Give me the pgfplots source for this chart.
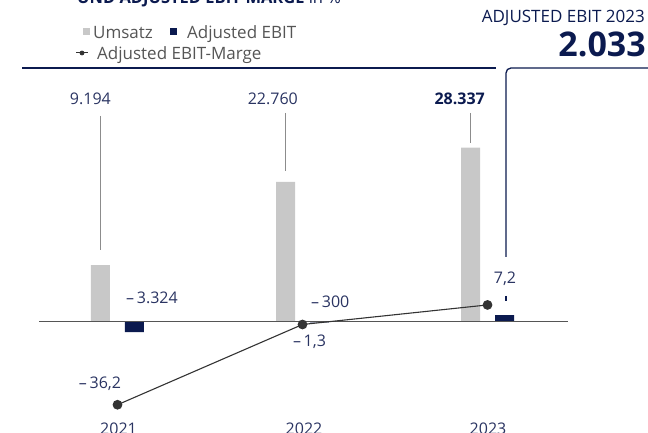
\documentclass[border=0pt]{standalone}
\usepackage{fontspec}
\setmainfont{Open Sans}
\usepackage{pgfplots}
\usepackage{pgfplotstable}
\pgfplotsset{compat=1.18}
\definecolor{barg}{HTML}{C8C8C8}
\definecolor{navy}{HTML}{0B1A4F}
\definecolor{lbl}{HTML}{2A3462}
\definecolor{legtxt}{HTML}{555555}
\definecolor{linec}{HTML}{333333}
\definecolor{axc}{HTML}{555555}
\definecolor{leader}{HTML}{8C8C8C}

\pgfplotstableread{
x umsatz ebit marge
0 9194 -3324 -36.2
1 22760 -300 -1.3
2 28337 2033 7.2
}\data

\pgfplotsset{base/.style={at={(39pt,0pt)}, anchor=south west, width=529pt, height=365pt,
  scale only axis, xmin=-0.4243, xmax=2.4351, hide axis, clip=false}}

\begin{document}
\begin{tikzpicture}
\useasboundingbox (0,0) rectangle (648pt,433pt);
% Umsatz
\begin{axis}[base, ymin=-18174.5, ymax=41320.5]
\addplot[ybar, bar width=19pt, bar shift=-17pt, fill=barg, draw=none] table[x=x,y=umsatz]{\data};
\end{axis}
% Adjusted EBIT
\begin{axis}[base, ymin=-35122.5, ymax=79852.5]
\addplot[ybar, bar width=19pt, bar shift=17pt, fill=navy, draw=none] table[x=x,y=ebit]{\data};
\end{axis}
\begin{scope}[shift={(0pt,433pt)}, x=1pt, y=-1pt]
\draw[axc, line width=1.2pt] (39,321.5) -- (568,321.5);
\end{scope}
% Marge
\begin{axis}[base, ymin=-48.4783, ymax=110.2174]
\addplot[linec, line width=1.1pt, mark=*, mark size=4.3pt, mark options={fill=linec, draw=linec}] table[x=x,y=marge]{\data};
\end{axis}
\begin{scope}[shift={(0pt,433pt)}, x=1pt, y=-1pt]
% title (cut off at the top, as in the reference)
\node[anchor=base west, inner sep=0, text=navy, font=\fontsize{16.5}{19}\selectfont] at (77,4) {\textbf{UND ADJUSTED EBIT-MARGE} in \%};
% legend
\fill[barg] (83,28.5) rectangle (90,35.5);
\node[anchor=base west, inner sep=0, text=legtxt, font=\fontsize{17}{20}\selectfont] at (93,38.5) {Umsatz};
\fill[navy] (170,28.5) rectangle (177,35.5);
\node[anchor=base west, inner sep=0, text=legtxt, font=\fontsize{17}{20}\selectfont] at (187,38.5) {Adjusted EBIT};
\draw[linec, line width=1pt] (76,53) -- (88,53);
\fill[linec] (82,53) circle (2.4);
\node[anchor=base west, inner sep=0, text=legtxt, font=\fontsize{17}{20}\selectfont] at (97,59.5) {Adjusted EBIT-Marge};
% header right
\node[anchor=base east, inner sep=0, text=navy, font=\fontsize{17}{21}\selectfont] at (645,23) {ADJUSTED EBIT 2023};
\node[anchor=base east, inner sep=0, text=navy, font=\fontsize{34}{40}\selectfont\bfseries] at (646,57) {2.033};
% header lines
\draw[navy, line width=1.5pt] (22,68) -- (496,68);
\draw[navy, line width=1.3pt, rounded corners=5pt] (506,257) -- (506,68) -- (652,68);
\draw[navy, line width=1.1pt] (506,296) -- (506,301);
% leader lines
\draw[leader, line width=0.9pt] (100.5,116) -- (100.5,250);
\draw[leader, line width=0.9pt] (285.5,113) -- (285.5,171);
\draw[leader, line width=0.9pt] (470.5,113) -- (470.5,143);
% Umsatz labels
\node[anchor=base east, inner sep=0, text=lbl, font=\fontsize{16}{19}\selectfont] at (111,105) {9.194};
\node[anchor=base east, inner sep=0, text=lbl, font=\fontsize{16}{19}\selectfont] at (298,105) {22.760};
\node[anchor=base east, inner sep=0, text=navy, font=\fontsize{16}{19}\selectfont\bfseries] at (485,105) {28.337};
% EBIT labels
\node[anchor=base west, inner sep=0, text=lbl, font=\fontsize{16}{19}\selectfont] at (126,304) {–\,3.324};
\node[anchor=base west, inner sep=0, text=lbl, font=\fontsize{16}{19}\selectfont] at (311,308) {–\,300};
% Marge labels
\node[anchor=base, inner sep=0, text=lbl, font=\fontsize{16}{19}\selectfont] at (309.5,347) {–\,1,3};
\node[anchor=base, inner sep=0, text=lbl, font=\fontsize{16}{19}\selectfont] at (100,389) {–\,36,2};
\node[anchor=base, inner sep=0, text=lbl, font=\fontsize{16}{19}\selectfont] at (505,284) {7,2};
% years (cut off at the bottom, as in the reference)
\node[anchor=base, inner sep=0, text=lbl, font=\fontsize{16}{19}\selectfont] at (118.5,435) {2021};
\node[anchor=base, inner sep=0, text=lbl, font=\fontsize{16}{19}\selectfont] at (304,435) {2022};
\node[anchor=base, inner sep=0, text=lbl, font=\fontsize{16}{19}\selectfont] at (488,435) {2023};
\end{scope}
\end{tikzpicture}
\end{document}
